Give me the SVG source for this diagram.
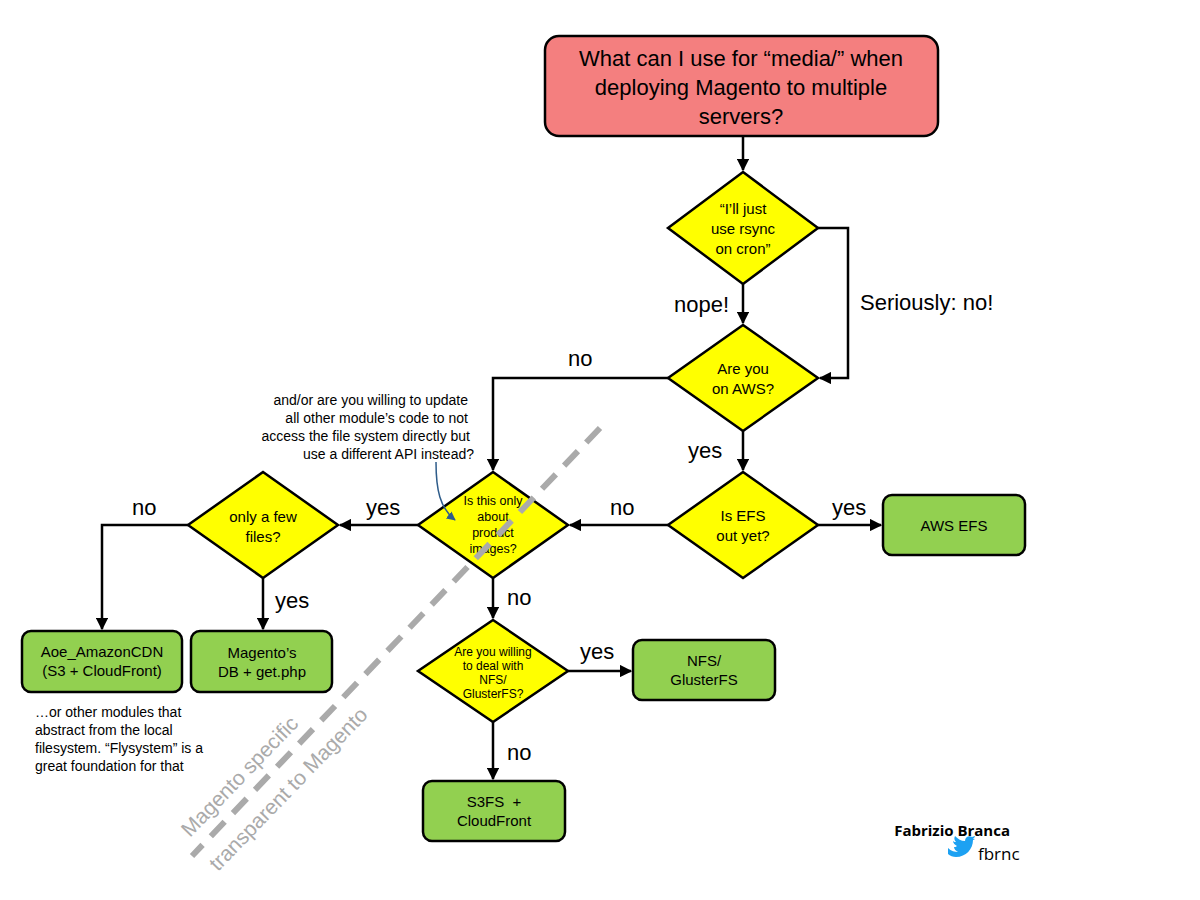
<svg xmlns="http://www.w3.org/2000/svg" width="1200" height="900" viewBox="0 0 1200 900">
<style>
text{font-family:"Liberation Sans",Arial,sans-serif;fill:#000}
.box{fill:#92d050;stroke:#000;stroke-width:2.5}
.dia{fill:#ffff00;stroke:#000;stroke-width:2.5}
.c{stroke:#000;stroke-width:2.5;fill:none;marker-end:url(#a)}
.lbl{font-size:22px}
.t{text-anchor:middle}
</style>
<defs>
<marker id="a" viewBox="0 0 10 10" refX="9" refY="5" markerWidth="5" markerHeight="5" orient="auto"><path d="M0,0L10,5L0,10z" fill="#000"/></marker>
<marker id="b" viewBox="0 0 10 10" refX="9" refY="5" markerWidth="6" markerHeight="6" orient="auto"><path d="M0,0L10,5L0,10z" fill="#2e5c8a"/></marker>
</defs>
<rect width="1200" height="900" fill="#fff"/>
<g id="title"><rect x="545" y="36" width="393" height="100" rx="14" fill="#f47f7f" stroke="#000" stroke-width="2.5"/>
<text class="t" font-size="22"><tspan x="741" y="66">What can I use for “media/” when</tspan><tspan x="741" y="95">deploying Magento to multiple</tspan><tspan x="741" y="124">servers?</tspan></text></g>
<g id="rsync"><polygon class="dia" points="743,172 818,228 743,284 668,228"/><text class="t" font-size="15"><tspan x="743" y="214">“I’ll just</tspan><tspan x="743" y="234">use rsync</tspan><tspan x="743" y="254">on cron”</tspan></text></g>
<g id="aws"><polygon class="dia" points="743,325 818,378 743,431 668,378"/><text class="t" font-size="15"><tspan x="743" y="374">Are you</tspan><tspan x="743" y="394">on AWS?</tspan></text></g>
<g id="efs"><polygon class="dia" points="743,472 818,525 743,578 668,525"/><text class="t" font-size="15"><tspan x="743" y="521">Is EFS</tspan><tspan x="743" y="541">out yet?</tspan></text></g>
<g id="awsefs"><rect class="box" x="883" y="495" width="142" height="60" rx="9"/><text class="t" x="954" y="531" font-size="15">AWS EFS</text></g>
<g id="product"><polygon class="dia" points="493,472 568,525 493,578 418,525"/><text class="t" font-size="12.5"><tspan x="493" y="505">Is this only</tspan><tspan x="493" y="521">about</tspan><tspan x="493" y="537">product</tspan><tspan x="493" y="553">images?</tspan></text></g>
<g id="few"><polygon class="dia" points="263,472 338,525 263,578 188,525"/><text class="t" font-size="15"><tspan x="263" y="522">only a few</tspan><tspan x="263" y="542">files?</tspan></text></g>
<g id="aoe"><rect class="box" x="22" y="631" width="160" height="61" rx="9"/><text class="t" font-size="15"><tspan x="102" y="657">Aoe_AmazonCDN</tspan><tspan x="102" y="676">(S3 + CloudFront)</tspan></text></g>
<g id="mdb"><rect class="box" x="191" y="631" width="141" height="61" rx="9"/><text class="t" font-size="15"><tspan x="262" y="658">Magento’s</tspan><tspan x="262" y="677">DB + get.php</tspan></text></g>
<g id="nfsq"><polygon class="dia" points="493,620 568,671 493,722 418,671"/><text class="t" font-size="12"><tspan x="493" y="656">Are you willing</tspan><tspan x="493" y="670">to deal with</tspan><tspan x="493" y="684">NFS/</tspan><tspan x="493" y="698">GlusterFS?</tspan></text></g>
<g id="nfs"><rect class="box" x="633" y="640" width="142" height="60" rx="9"/><text class="t" font-size="15"><tspan x="704" y="666">NFS/</tspan><tspan x="704" y="685">GlusterFS</tspan></text></g>
<g id="s3fs"><rect class="box" x="423" y="781" width="142" height="60" rx="9"/><text class="t" font-size="15" xml:space="preserve"><tspan x="494" y="807">S3FS  +</tspan><tspan x="494" y="826">CloudFront</tspan></text></g>
<g id="connectors">
<path class="c" d="M743,136V170"/>
<path class="c" d="M743,284V323"/>
<path class="c" d="M818,228H848V378H820"/>
<path class="c" d="M668,378H493V470"/>
<path class="c" d="M743,431V470"/>
<path class="c" d="M818,525H881"/>
<path class="c" d="M668,525H570"/>
<path class="c" d="M418,525H340"/>
<path class="c" d="M188,525H102V629"/>
<path class="c" d="M263,578V629"/>
<path class="c" d="M493,578V618"/>
<path class="c" d="M568,671H631"/>
<path class="c" d="M493,722V779"/>
<path d="M436,462C436,490 440,508 455,520" stroke="#2e5c8a" stroke-width="1.5" fill="none" marker-end="url(#b)"/>
</g>
<g id="labels" class="lbl">
<text x="674" y="312">nope!</text>
<text x="860" y="310">Seriously: no!</text>
<text x="568" y="366">no</text>
<text x="688" y="458">yes</text>
<text x="832" y="515">yes</text>
<text x="610" y="515">no</text>
<text x="366" y="515">yes</text>
<text x="132" y="515">no</text>
<text x="275" y="608">yes</text>
<text x="507" y="605">no</text>
<text x="580" y="659">yes</text>
<text x="507" y="760">no</text>
</g>
<text font-size="14" text-anchor="end"><tspan x="468" y="405">and/or are you willing to update</tspan><tspan x="468" y="423">all other module’s code to not</tspan><tspan x="470" y="441">access the file system directly but</tspan><tspan x="474" y="459">use a different API instead?</tspan></text>
<text font-size="14"><tspan x="35" y="717">…or other modules that</tspan><tspan x="35" y="735">abstract from the local</tspan><tspan x="35" y="753">filesystem. “Flysystem” is a</tspan><tspan x="35" y="771">great foundation for that</tspan></text>
<line x1="600" y1="428" x2="192" y2="856" stroke="#aaa" stroke-width="6" stroke-dasharray="20,12"/>
<text font-size="21" fill="#aaa" style="fill:#aaa" transform="translate(190,838) rotate(-46)">Magento specific</text>
<text font-size="21" fill="#aaa" style="fill:#aaa" transform="translate(218,872) rotate(-46)">transparent to Magento</text>
<text x="1010" y="836" font-size="15" font-weight="bold" text-anchor="end" style="font-family:'Open Sans','Liberation Sans',sans-serif">Fabrizio Branca</text>
<path d="M948,848c3,3 7,4 10,4c-2,-1 -4,-3 -4,-5c1,0 2,0 3,-1c-2,-1 -4,-3 -4,-5c1,1 2,1 3,1c-2,-2 -2,-4 -1,-6c3,3 6,5 10,5c0,-4 4,-6 7,-4c1,0 2,-1 3,-1c0,1 -1,2 -2,3c1,0 2,0 2,-1c0,1 -1,2 -2,2c0,9 -7,17 -17,17c-3,0 -6,-1 -8,-3z" fill="#1da1f2"/>
<text x="978" y="860" font-size="17" style="font-family:'Open Sans','Liberation Sans',sans-serif">fbrnc</text>
</svg>
